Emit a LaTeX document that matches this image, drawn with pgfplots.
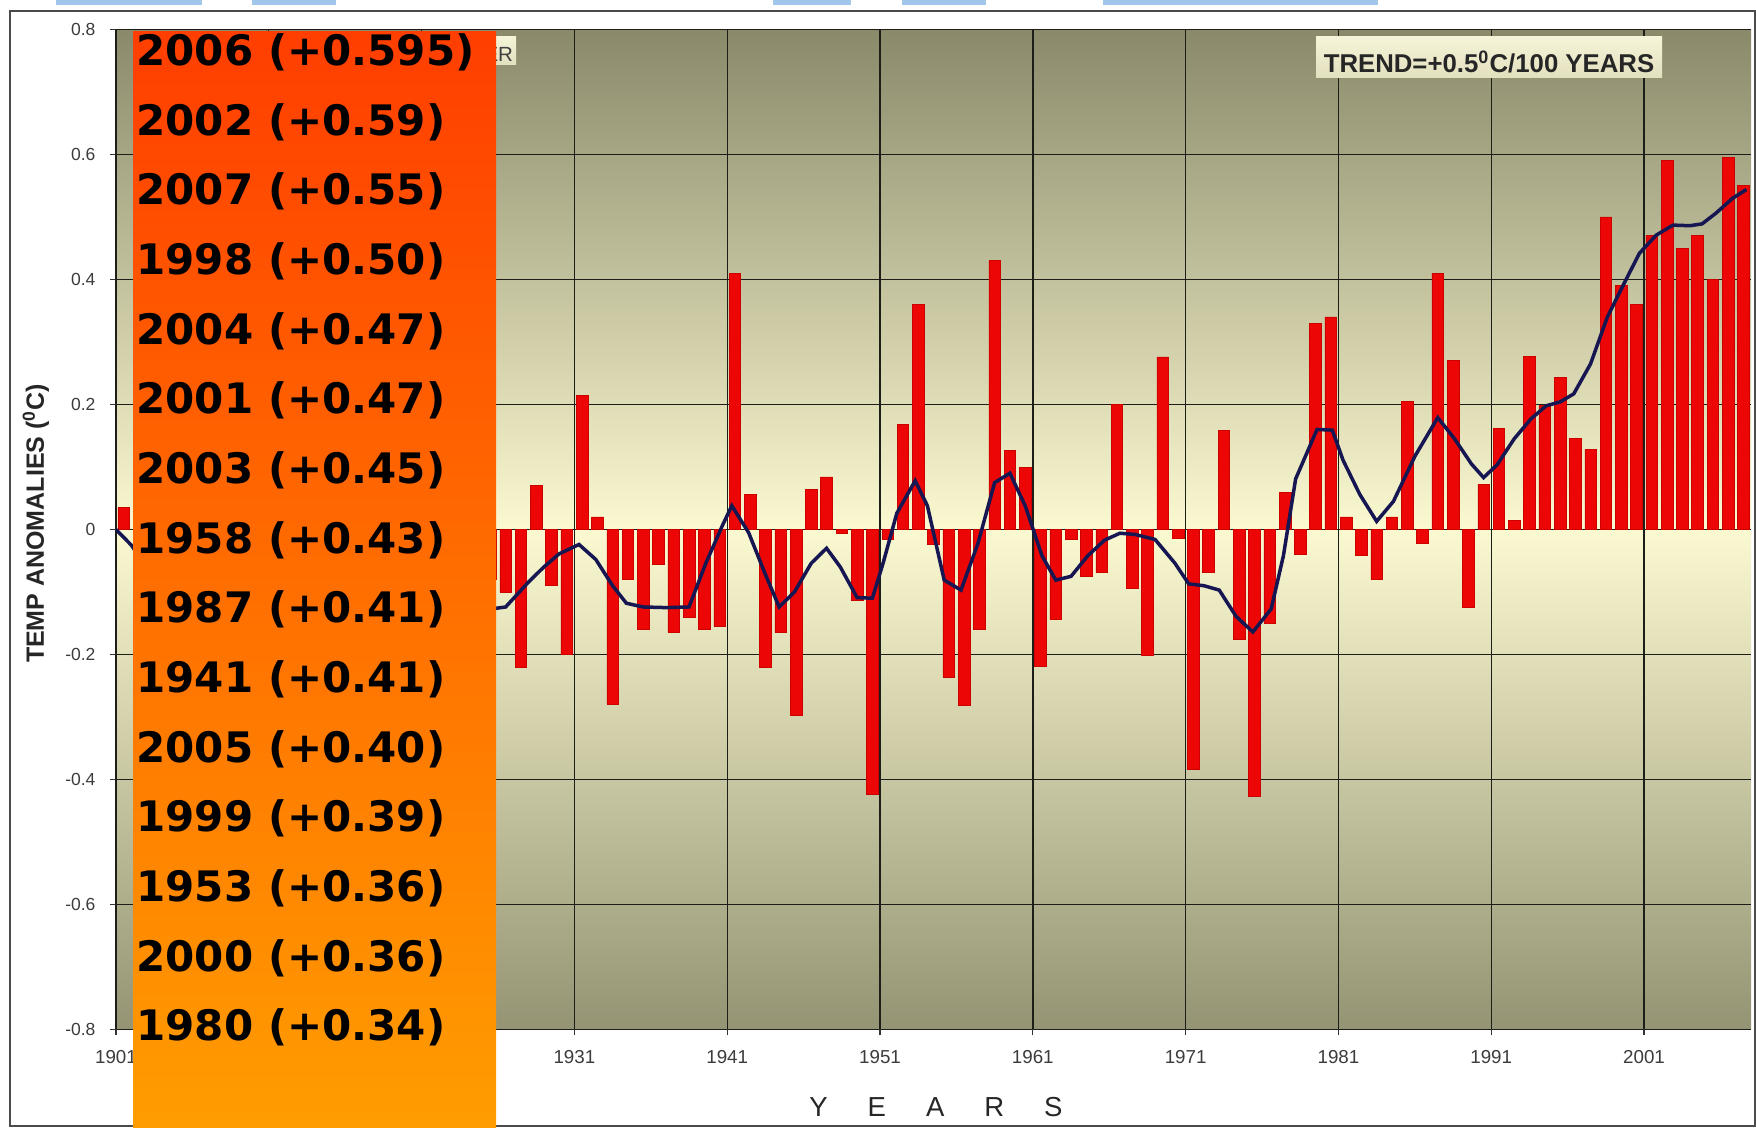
\documentclass[border=0pt]{standalone}
\usepackage{pgfplots}
\pgfplotsset{compat=1.18}
\usepackage{pgfplotstable}
\usepackage{fontspec}
\setmainfont{Liberation Sans}
\newfontfamily\listfont{DejaVu Sans}

\definecolor{bgtop}{RGB}{138,138,107}
\definecolor{bgmid}{RGB}{251,249,208}
\definecolor{bgbot}{RGB}{148,148,116}
\definecolor{barred}{RGB}{236,6,6}
\definecolor{baredge}{RGB}{205,0,0}
\definecolor{avgline}{RGB}{22,22,82}
\definecolor{gridc}{RGB}{30,30,25}
\definecolor{orTop}{RGB}{255,62,0}
\definecolor{orBot}{RGB}{255,157,0}
\definecolor{framec}{RGB}{75,75,75}
\definecolor{boxlight}{RGB}{246,244,216}
\definecolor{boxdark}{RGB}{226,224,190}
\definecolor{topblue}{RGB}{160,198,236}
\definecolor{ticktext}{RGB}{60,60,60}

% annual anomalies; 1902-1925 are hidden behind the list box
\pgfplotstableread{
year anom
1901 0.035
1902 -0.05
1903 -0.12
1904 -0.08
1905 -0.15
1906 0.05
1907 -0.18
1908 -0.10
1909 -0.20
1910 -0.12
1911 0.02
1912 -0.15
1913 -0.25
1914 -0.06
1915 0.04
1916 -0.22
1917 -0.30
1918 -0.08
1919 -0.05
1920 -0.12
1921 0.03
1922 -0.10
1923 -0.14
1924 -0.16
1925 -0.08
1926 -0.10
1927 -0.22
1928 0.07
1929 -0.09
1930 -0.20
1931 0.215
1932 0.02
1933 -0.28
1934 -0.08
1935 -0.16
1936 -0.055
1937 -0.165
1938 -0.14
1939 -0.16
1940 -0.155
1941 0.41
1942 0.056
1943 -0.22
1944 -0.165
1945 -0.297
1946 0.064
1947 0.084
1948 -0.006
1949 -0.113
1950 -0.424
1951 -0.015
1952 0.168
1953 0.36
1954 -0.023
1955 -0.236
1956 -0.281
1957 -0.16
1958 0.43
1959 0.127
1960 0.099
1961 -0.219
1962 -0.144
1963 -0.016
1964 -0.075
1965 -0.069
1966 0.20
1967 -0.094
1968 -0.201
1969 0.276
1970 -0.014
1971 -0.383
1972 -0.069
1973 0.159
1974 -0.175
1975 -0.427
1976 -0.15
1977 0.059
1978 -0.039
1979 0.33
1980 0.34
1981 0.02
1982 -0.042
1983 -0.08
1984 0.02
1985 0.205
1986 -0.022
1987 0.41
1988 0.27
1989 -0.125
1990 0.072
1991 0.162
1992 0.015
1993 0.277
1994 0.198
1995 0.243
1996 0.146
1997 0.128
1998 0.50
1999 0.39
2000 0.36
2001 0.47
2002 0.59
2003 0.45
2004 0.47
2005 0.40
2006 0.595
2007 0.55
}\anomdata

\begin{document}
\begin{tikzpicture}
\path[use as bounding box] (0,0) rectangle (702.4pt,451.2pt);
\fill[white] (0,0) rectangle (702.4pt,451.2pt);

% cut-off blue title letters at the very top
\fill[topblue] (22.4pt,449pt) rectangle (80.8pt,451.2pt);
\fill[topblue] (100.8pt,449pt) rectangle (134.4pt,451.2pt);
\fill[topblue] (309.2pt,449pt) rectangle (340.4pt,451.2pt);
\fill[topblue] (360.8pt,449pt) rectangle (394.4pt,451.2pt);
\fill[topblue] (441.2pt,449pt) rectangle (551.2pt,451.2pt);

\draw[framec, line width=0.8pt] (4pt,0.8pt) rectangle (702pt,446.8pt);

% plot area gradient
\shade[top color=bgtop, bottom color=bgbot, middle color=bgmid]
    (46.4pt,39.4pt) rectangle (700.4pt,439.4pt);

\begin{axis}[
    at={(46.4pt,39.4pt)}, anchor=south west,
    scale only axis,
    width=654pt, height=400pt,
    xmin=1901, xmax=2008,
    ymin=-0.8, ymax=0.8,
    axis line style={draw=none},
    xtick={1901,1911,1921,1931,1941,1951,1961,1971,1981,1991,2001},
    xticklabels={1901,1911,1921,1931,1941,1951,1961,1971,1981,1991,2001},
    ytick={-0.8,-0.6,-0.4,-0.2,0,0.2,0.4,0.6,0.8},
    yticklabels={-0.8,-0.6,-0.4,-0.2,0,0.2,0.4,0.6,0.8},
    tick pos=left,
    tick align=outside,
    major tick length=2.4pt,
    tick style={black!80, line width=0.5pt},
    xticklabel style={font=\fontsize{7.5}{7.5}\selectfont, text=ticktext, yshift=-2.4pt},
    yticklabel style={font=\fontsize{7}{7}\selectfont, text=ticktext, xshift=-2.3pt},
    grid=major,
    major grid style={gridc, line width=0.55pt},
    xlabel={Y\hspace{16pt}E\hspace{16pt}A\hspace{16pt}R\hspace{16pt}S},
    every axis x label/.style={at={(axis description cs:0.5015,-0.0775)}, anchor=center,
        font=\fontsize{11}{11}\selectfont, text=black!85},
    ylabel={TEMP ANOMALIES (\textsuperscript{0}C)},
    every axis y label/.style={at={(axis description cs:-0.049,0.506)}, rotate=90, anchor=center,
        font=\bfseries\fontsize{10}{10}\selectfont, text=black!85},
]
\addplot[ybar, bar width=0.76, fill=barred, draw=baredge, line width=0.2pt]
    table[x expr=\thisrow{year}+0.5, y=anom] {\anomdata};

% smoothed curve
\addplot[avgline, line width=1.4pt] coordinates {
(1901,0.0) (1902,-0.025) (1903,-0.06) (1905,-0.10) (1907,-0.12) (1909,-0.14)
(1911,-0.10) (1913,-0.13) (1915,-0.11) (1917,-0.17) (1919,-0.14) (1921,-0.09)
(1923,-0.11) (1924.6,-0.13) (1925.6,-0.127) (1926.5,-0.124) (1928,-0.084)
(1929,-0.06) (1930,-0.039) (1931.3,-0.024) (1932.4,-0.048) (1933.5,-0.09)
(1934.4,-0.118) (1935.5,-0.124) (1937,-0.125) (1938.5,-0.124) (1939.6,-0.054)
(1940.7,0.007) (1941.3,0.038) (1942.4,-0.005) (1943.5,-0.072) (1944.4,-0.124)
(1945.4,-0.10) (1946.5,-0.054) (1947.5,-0.03) (1948.4,-0.06) (1949.5,-0.109)
(1950.5,-0.11) (1951.2,-0.054) (1952.1,0.026) (1953.3,0.078) (1954.1,0.038)
(1955.2,-0.081) (1956.3,-0.097) (1957.4,-0.023) (1958.5,0.075) (1959.5,0.09)
(1960.5,0.038) (1961.6,-0.042) (1962.5,-0.081) (1963.5,-0.075) (1964.6,-0.042)
(1965.7,-0.017) (1966.7,-0.006) (1967.7,-0.008) (1969,-0.016) (1970.3,-0.054)
(1971.2,-0.087) (1972.2,-0.09) (1973.2,-0.097) (1974.3,-0.139) (1975.4,-0.164)
(1976.6,-0.127) (1977.4,-0.042) (1978.2,0.081) (1979.6,0.16) (1980.6,0.159)
(1981.3,0.111) (1982.4,0.056) (1983.5,0.013) (1984.6,0.045) (1986.0,0.117)
(1987.5,0.179) (1988.6,0.145) (1989.7,0.105) (1990.5,0.083) (1991.4,0.104)
(1992.5,0.145) (1993.6,0.177) (1994.6,0.198) (1995.5,0.204) (1996.4,0.217)
(1997.5,0.265) (1998.6,0.34) (1999.7,0.394) (2000.7,0.442) (2001.8,0.471)
(2002.9,0.487) (2004.0,0.486) (2004.8,0.489) (2005.7,0.506) (2006.8,0.53)
(2007.7,0.544)
};
\end{axis}

% small text box, mostly hidden by the list
\shade[top color=boxlight, bottom color=boxdark] (150pt,425.2pt) rectangle (206.4pt,436.4pt);
\node[anchor=east, inner sep=0.6pt, font=\fontsize{8.2}{8.2}\selectfont, text=black!75]
    at (206pt,429.4pt) {ER};

% trend box
\shade[top color=boxlight, bottom color=boxdark] (526.4pt,420pt) rectangle (664.8pt,436.4pt);
\node[inner sep=0pt, font=\bfseries\fontsize{10.3}{10.3}\selectfont, text=black!85]
    at (595.6pt,426.4pt) {TREND=+0.5\textsuperscript{0}C/100 YEARS};

% list of warmest years
\shade[top color=orTop, bottom color=orBot] (53.2pt,0pt) rectangle (198.4pt,438.4pt);
\foreach \t [count=\i from 0] in {2006 (+0.595),2002 (+0.59),2007 (+0.55),1998 (+0.50),
    2004 (+0.47),2001 (+0.47),2003 (+0.45),1958 (+0.43),1987 (+0.41),1941 (+0.41),
    2005 (+0.40),1999 (+0.39),1953 (+0.36),2000 (+0.36),1980 (+0.34)} {
  \node[anchor=base west, inner sep=0pt, font=\listfont\bfseries\fontsize{16.8}{16.8}\selectfont]
      at (54.4pt,{425pt-\i*27.87pt}) {\t};
}
\end{tikzpicture}
\end{document}
